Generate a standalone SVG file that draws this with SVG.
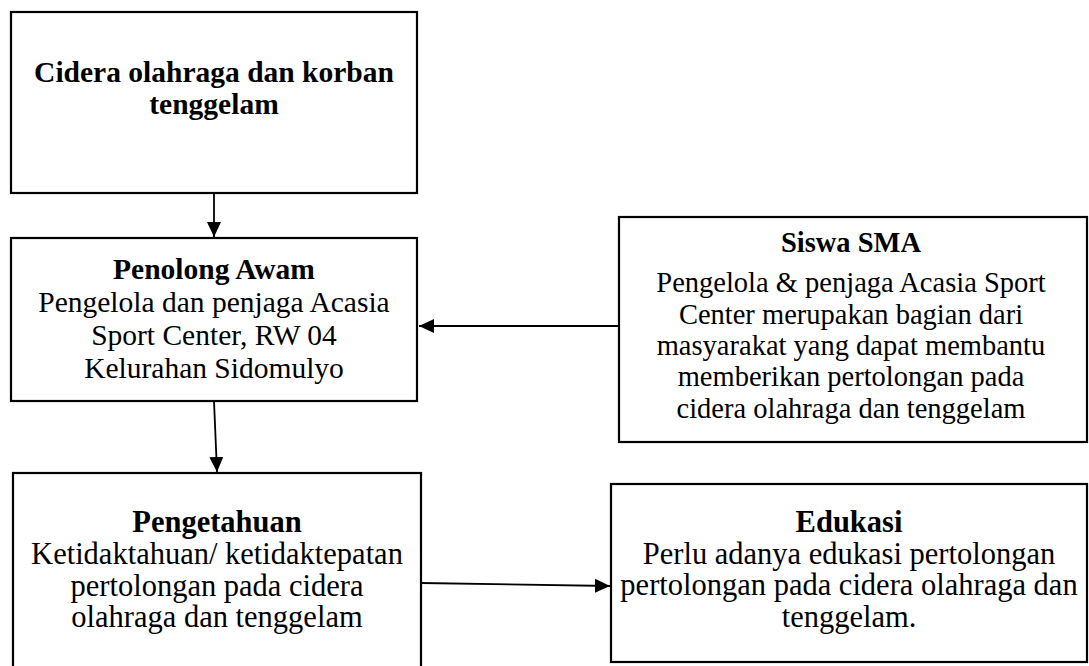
<svg xmlns="http://www.w3.org/2000/svg" width="1089" height="666" viewBox="0 0 1089 666">
<style>
.box{fill:#fff;stroke:#000;stroke-width:2.2}
.t{font-family:"Liberation Serif","Times New Roman",serif;font-size:29.5px;fill:#000;text-anchor:middle}
.s{font-size:28.5px}
.l{font-size:30.5px}
.b{font-weight:bold}
.c{stroke:#000;stroke-width:1.8;fill:none}
</style>
<defs>
<marker id="ah" markerUnits="userSpaceOnUse" markerWidth="16" markerHeight="14" refX="15" refY="7" orient="auto">
<path d="M0,0 L15,7 L0,14 Z" fill="#000"/>
</marker>
</defs>
<rect width="1089" height="666" fill="#fff"/>
<g id="node-cidera">
<rect class="box" x="11" y="12" width="406" height="181"/>
<text class="t b" x="214" y="82">Cidera olahraga dan korban</text>
<text class="t b" x="214" y="114">tenggelam</text>
</g>
<g id="node-penolong">
<rect class="box" x="11" y="238" width="406" height="163"/>
<text class="t b" x="214" y="279">Penolong Awam</text>
<text class="t" x="214" y="312">Pengelola dan penjaga Acasia</text>
<text class="t" x="214" y="345">Sport Center, RW 04</text>
<text class="t" x="214" y="378">Kelurahan Sidomulyo</text>
</g>
<g id="node-siswa">
<rect class="box" x="619" y="217" width="468" height="225"/>
<text class="t s b" x="851" y="252">Siswa SMA</text>
<text class="t s" x="851" y="292">Pengelola &amp; penjaga Acasia Sport</text>
<text class="t s" x="851" y="324">Center merupakan bagian dari</text>
<text class="t s" x="851" y="355">masyarakat yang dapat membantu</text>
<text class="t s" x="851" y="386">memberikan pertolongan pada</text>
<text class="t s" x="851" y="418">cidera olahraga dan tenggelam</text>
</g>
<g id="node-pengetahuan">
<rect class="box" x="13" y="473" width="408" height="200"/>
<text class="t l b" x="217" y="532">Pengetahuan</text>
<text class="t l" x="217" y="564">Ketidaktahuan/ ketidaktepatan</text>
<text class="t l" x="217" y="596">pertolongan pada cidera</text>
<text class="t l" x="217" y="627">olahraga dan tenggelam</text>
</g>
<g id="node-edukasi">
<rect class="box" x="611" y="484" width="476" height="178"/>
<text class="t l b" x="849" y="532">Edukasi</text>
<text class="t l" x="849" y="564">Perlu adanya edukasi pertolongan</text>
<text class="t l" x="849" y="595">pertolongan pada cidera olahraga dan</text>
<text class="t l" x="849" y="627">tenggelam.</text>
</g>
<g id="connectors">
<line class="c" x1="214" y1="193" x2="214" y2="237" marker-end="url(#ah)"/>
<line class="c" x1="214" y1="401" x2="217" y2="472" marker-end="url(#ah)"/>
<line class="c" x1="619" y1="326" x2="419" y2="326" marker-end="url(#ah)"/>
<line class="c" x1="421" y1="583" x2="610" y2="586" marker-end="url(#ah)"/>
</g>
</svg>
